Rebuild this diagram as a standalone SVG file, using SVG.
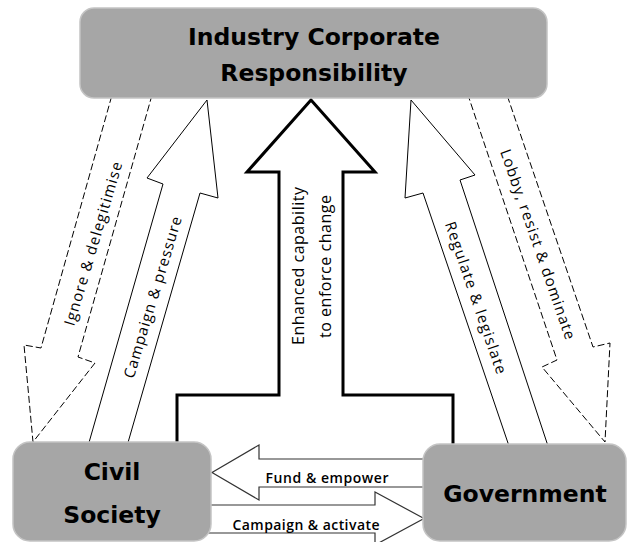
<svg xmlns="http://www.w3.org/2000/svg" width="629" height="542" viewBox="0 0 629 542">
<style>
.box{fill:#a6a6a6;stroke:#c4c4c4;stroke-width:1.5}
.title{font-family:"DejaVu Sans",sans-serif;font-weight:bold;font-size:23.5px;fill:#000;text-anchor:middle}
.thin{fill:#fff;stroke:#000;stroke-width:1}
.dash{fill:#fff;stroke:#000;stroke-width:1;stroke-dasharray:7 3}
.thick{fill:none;stroke:#000;stroke-width:3;stroke-linejoin:miter}
.harrow{fill:#fff;stroke:#333;stroke-width:1.2}
.lbl{font-family:"Open Sans","Liberation Sans",sans-serif;font-size:15px;fill:#000;text-anchor:middle;dominant-baseline:central}
.hlbl{font-family:"Open Sans","Liberation Sans",sans-serif;font-size:14px;font-weight:600;fill:#000;text-anchor:middle}
</style>
<rect width="629" height="542" fill="#fff"/>
<g id="connectors">
  <g id="ignore">
    <polygon class="dash" points="112,95 152,95 78,357 95,363 33,442 24,345 41,348"/>
    <text class="lbl" transform="translate(92.5,243.5) rotate(-73.4)" textLength="170" lengthAdjust="spacing">Ignore &amp; delegitimise</text>
  </g>
  <g id="campaign-pressure">
    <polygon class="thin" points="207,100 218,198 200,193 127,446 88,446 163,184 147,178"/>
    <text class="lbl" transform="translate(152,297) rotate(-73.2)" textLength="168" lengthAdjust="spacing">Campaign &amp; pressure</text>
  </g>
  <g id="enhanced">
    <path class="thick" d="M177,450 V395 H279 V172 H247 L311,100 L375,172 H343 V395 H453 V450"/>
    <text class="lbl" style="font-size:16px" transform="translate(298,266) rotate(-90)" textLength="158" lengthAdjust="spacing">Enhanced capability</text>
    <text class="lbl" style="font-size:16px" transform="translate(325,266.5) rotate(-90)" textLength="143" lengthAdjust="spacing">to enforce change</text>
  </g>
  <g id="regulate">
    <polygon class="thin" points="411,100 475,175 460,180 548,446 509,446 423,193 405,198"/>
    <text class="lbl" transform="translate(476.5,297.5) rotate(71)" textLength="160" lengthAdjust="spacing">Regulate &amp; legislate</text>
  </g>
  <g id="lobby">
    <polygon class="dash" points="468,95 507,95 593,347 610,343 605,442 542,367 557,360"/>
    <text class="lbl" transform="translate(538.5,244) rotate(70.8)" textLength="200" lengthAdjust="spacing">Lobby, resist &amp; dominate</text>
  </g>
  <g id="fund">
    <polygon class="harrow" points="430,459 259,459 259,445 212,472.5 259,500 259,487 430,487"/>
    <text class="hlbl" x="327" y="483" textLength="123" lengthAdjust="spacing">Fund &amp; empower</text>
  </g>
  <g id="campaign-activate">
    <polygon class="harrow" points="205,505 375,505 375,492 424,518.5 375,545 375,533 205,533"/>
    <text class="hlbl" x="306" y="530" textLength="147" lengthAdjust="spacing">Campaign &amp; activate</text>
  </g>
</g>
<g id="industry">
  <rect class="box" x="80" y="8" width="467" height="90" rx="14"/>
  <text class="title" x="314" y="45">Industry Corporate</text>
  <text class="title" x="314" y="81">Responsibility</text>
</g>
<g id="civil">
  <rect class="box" x="13" y="442" width="198" height="99" rx="17"/>
  <text class="title" x="112" y="480">Civil</text>
  <text class="title" x="112" y="523">Society</text>
</g>
<g id="government">
  <rect class="box" x="423" y="444" width="203" height="97" rx="17"/>
  <text class="title" x="525" y="502">Government</text>
</g>
</svg>
